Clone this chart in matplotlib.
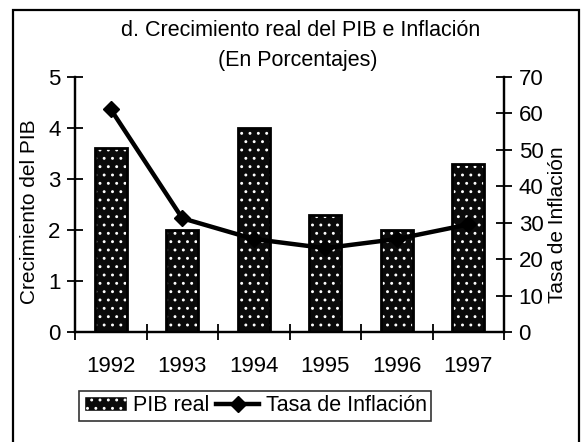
import matplotlib
matplotlib.use("Agg")
import matplotlib.pyplot as plt
from matplotlib.patches import Rectangle
from matplotlib.lines import Line2D
from matplotlib.patches import Patch

# --- datos ---
anios = ["1992", "1993", "1994", "1995", "1996", "1997"]
pib_real = [3.6, 2.0, 4.0, 2.3, 2.0, 3.3]
inflacion = [61.1, 31.2, 25.5, 23.0, 25.5, 29.5]

plt.rcParams["font.family"] = ["Liberation Sans", "DejaVu Sans"]
plt.rcParams["hatch.linewidth"] = 0.9

fig = plt.figure(figsize=(5.88, 4.42), dpi=100)
ax = fig.add_axes([0.1276, 0.249, 0.7296, 0.577])
ax2 = ax.twinx()

x = range(len(anios))
# barras oscuras con punteado blanco
ax.bar(x, pib_real, width=0.45, color="#0a0a0a", edgecolor="white",
       hatch="..", linewidth=0, zorder=2)
ax.bar(x, pib_real, width=0.45, fill=False, edgecolor="black",
       linewidth=2, zorder=3)

ax2.plot(x, inflacion, color="black", linewidth=3.2, marker="D",
         markersize=8, zorder=4)

ax.set_xlim(-0.5, len(anios) - 0.5)
ax.set_ylim(0, 5)
ax2.set_ylim(0, 70)
ax.set_yticks(range(0, 6))
ax2.set_yticks(range(0, 80, 10))
ax.set_xticks(x)
ax.set_xticklabels(anios)
ax.set_xticks([i + 0.5 for i in range(-1, len(anios))], minor=True)
ax.tick_params(axis="x", which="major", length=0, pad=17, labelsize=16)
ax.tick_params(axis="x", which="minor", direction="inout", length=11, width=1.3)
ax.tick_params(axis="y", direction="inout", length=11, width=1.3, labelsize=16, pad=5)
ax2.tick_params(axis="y", direction="inout", length=11, width=1.3, labelsize=16, pad=5)

for a in (ax, ax2):
    a.spines["top"].set_visible(False)
    for s in ("left", "right", "bottom"):
        a.spines[s].set_linewidth(1.6)

ax.set_ylabel("Crecimiento del PIB", fontsize=15)
ax.yaxis.set_label_coords(-0.083, 0.47)
ax2.set_ylabel("Tasa de Inflación", fontsize=15, rotation=90)
ax2.yaxis.set_label_coords(1.103, 0.42)

fig.text(0.511, 0.932, "d. Crecimiento real del PIB e Inflación", ha="center",
         va="center", fontsize=15.5)
fig.text(0.507, 0.864, "(En Porcentajes)", ha="center", va="center", fontsize=15.5)

handles = [Patch(facecolor="#0a0a0a", edgecolor="white", hatch=".."),
           Line2D([0], [0], color="black", linewidth=3.2, marker="D", markersize=8)]
leg = fig.legend(handles, ["PIB real", "Tasa de Inflación"], ncol=2,
                 loc="center", bbox_to_anchor=(0.434, 0.082), fontsize=15.5,
                 frameon=True, fancybox=False, edgecolor="black",
                 handlelength=2.0, handletextpad=0.3, columnspacing=0.3,
                 borderpad=0.2)
leg.get_frame().set_linewidth(1.2)

# marco exterior
fig.patches.append(Rectangle((0.022, -0.01), 0.963, 0.987, transform=fig.transFigure,
                             fill=False, edgecolor="black", linewidth=1.6))

fig.savefig("out.png", dpi=100)
